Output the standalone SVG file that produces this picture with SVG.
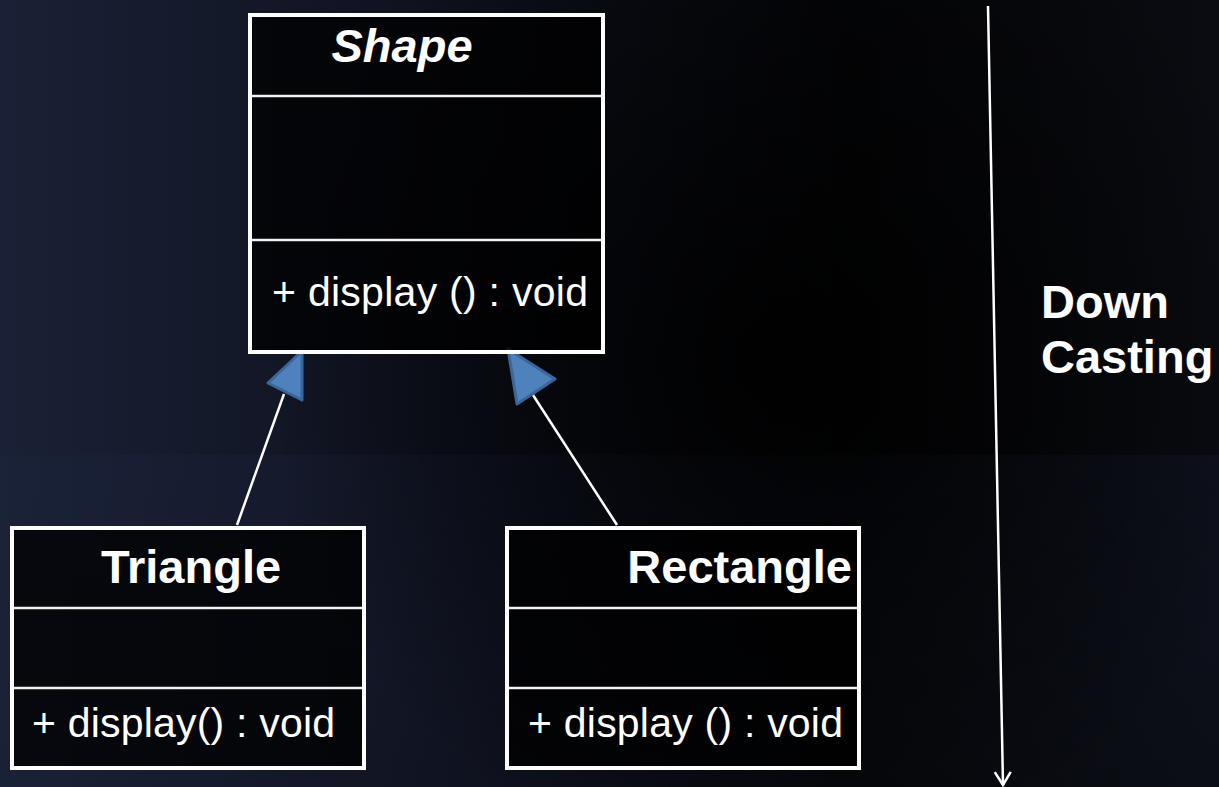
<svg xmlns="http://www.w3.org/2000/svg" width="1219" height="787" viewBox="0 0 1219 787">
  <defs>
    <linearGradient id="bgBase" x1="0" y1="0" x2="1" y2="0">
      <stop offset="0" stop-color="#1a2136"/>
      <stop offset="0.4" stop-color="#0d101b"/>
      <stop offset="0.7" stop-color="#040507"/>
      <stop offset="1" stop-color="#0a0c12"/>
    </linearGradient>
    <radialGradient id="bgGlow" cx="780" cy="360" r="520" gradientUnits="userSpaceOnUse">
      <stop offset="0" stop-color="#000000" stop-opacity="0.9"/>
      <stop offset="0.6" stop-color="#000000" stop-opacity="0.35"/>
      <stop offset="1" stop-color="#000000" stop-opacity="0"/>
    </radialGradient>
    <linearGradient id="bgBand" x1="0" y1="0" x2="0" y2="1">
      <stop offset="0" stop-color="#1e2745" stop-opacity="0.22"/>
      <stop offset="1" stop-color="#1e2745" stop-opacity="0.08"/>
    </linearGradient>
    <marker id="openArrow" viewBox="0 0 20 20" refX="18" refY="10" markerWidth="20" markerHeight="20" markerUnits="userSpaceOnUse" orient="auto">
      <path d="M5 2 L18 10 L5 18" fill="none" stroke="#ffffff" stroke-width="2.5"/>
    </marker>
    <style>
      .box { fill: #000000; fill-opacity: 0.75; stroke: #ffffff; stroke-width: 4; }
      .div { stroke: #f2f2f2; stroke-width: 2.5; }
      .title { font-family: "Liberation Sans", Arial, sans-serif; font-weight: bold; font-size: 47px; fill: #ffffff; }
      .member { font-family: "Liberation Sans", Arial, sans-serif; font-size: 41px; fill: #ffffff; }
      .link { stroke: #ffffff; stroke-width: 2.5; fill: none; }
      .gen { fill: #4f81bd; stroke: #3a6699; stroke-width: 3; stroke-linejoin: round; }
    </style>
  </defs>

  <!-- background -->
  <rect x="0" y="0" width="1219" height="787" fill="url(#bgBase)"/>
  <rect x="0" y="455" width="1219" height="332" fill="url(#bgBand)"/>
  <rect x="0" y="0" width="1219" height="787" fill="url(#bgGlow)"/>

  <!-- connectors -->
  <g id="connectors">
    <line class="link" x1="237" y1="525" x2="284" y2="394"/>
    <polygon class="gen" points="302,351 268,383 302,400"/>
    <line class="link" x1="617" y1="525" x2="533" y2="395"/>
    <polygon class="gen" points="508,349 555,379 517,404"/>
    <line class="link" x1="988" y1="6" x2="1003" y2="785" marker-end="url(#openArrow)"/>
  </g>

  <!-- base class -->
  <g id="shape">
    <rect class="box" x="250" y="15" width="353" height="337"/>
    <line class="div" x1="252" y1="96" x2="601" y2="96"/>
    <line class="div" x1="252" y1="240" x2="601" y2="240"/>
    <text class="title" x="402" y="62" text-anchor="middle" font-style="italic">Shape</text>
    <text class="member" x="272" y="306" textLength="316" lengthAdjust="spacing">+ display () : void</text>
  </g>

  <!-- derived classes -->
  <g id="triangle">
    <rect class="box" x="12" y="528" width="352" height="240"/>
    <line class="div" x1="14" y1="608" x2="362" y2="608"/>
    <line class="div" x1="14" y1="688" x2="362" y2="688"/>
    <text class="title" x="191" y="583" text-anchor="middle">Triangle</text>
    <text class="member" x="32" y="737" textLength="303" lengthAdjust="spacing">+ display()  : void</text>
  </g>

  <g id="rectangle">
    <rect class="box" x="507" y="528" width="352" height="240"/>
    <line class="div" x1="509" y1="608" x2="857" y2="608"/>
    <line class="div" x1="509" y1="688" x2="857" y2="688"/>
    <text class="title" x="852" y="583" text-anchor="end">Rectangle</text>
    <text class="member" x="528" y="737" textLength="315" lengthAdjust="spacing">+ display () : void</text>
  </g>

  <!-- direction label -->
  <g id="label">
    <text class="title" x="1041" y="318">Down</text>
    <text class="title" x="1041" y="373">Casting</text>
  </g>
</svg>
